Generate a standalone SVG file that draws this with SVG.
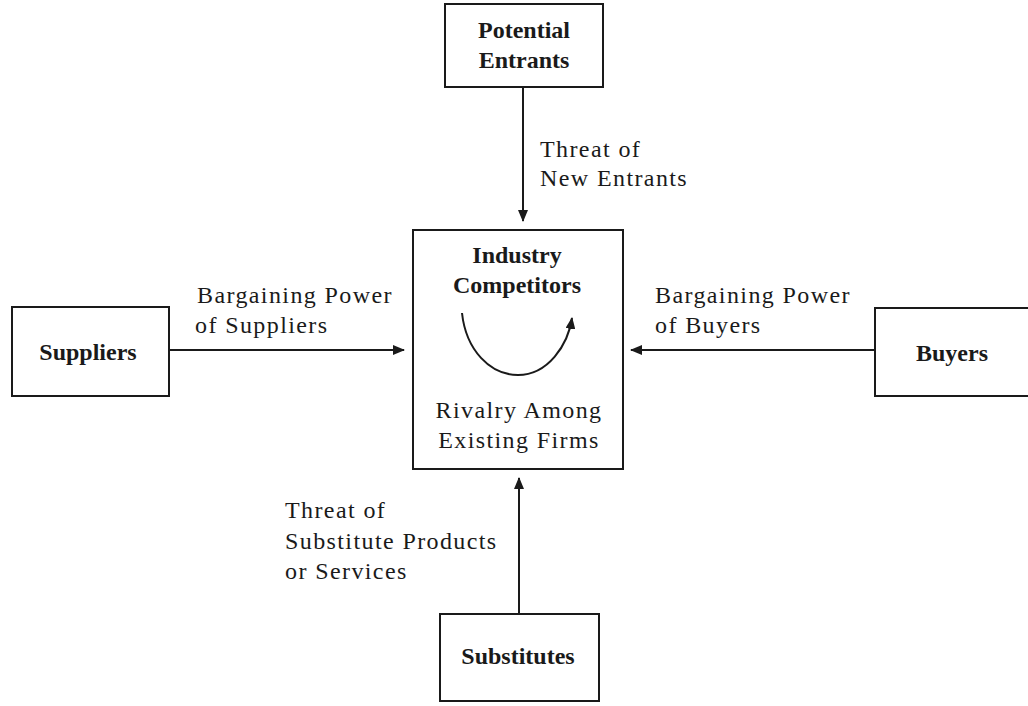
<svg xmlns="http://www.w3.org/2000/svg" width="1028" height="706" viewBox="0 0 1028 706">
  <style>
    .box { fill: #ffffff; stroke: #1a1a1a; stroke-width: 2; }
    .title { font-family: "Liberation Serif", "Times New Roman", serif; font-size: 24px; font-weight: bold; fill: #1a1a1a; text-anchor: middle; }
    .label { font-family: "Liberation Serif", "Times New Roman", serif; font-size: 24px; letter-spacing: 1.4px; fill: #1a1a1a; }
    .mid { text-anchor: middle; }
    .link { fill: none; stroke: #1a1a1a; stroke-width: 2; }
  </style>
  <defs>
    <marker id="arrow" viewBox="0 0 12 10" refX="11" refY="5" markerWidth="12" markerHeight="10" markerUnits="userSpaceOnUse" orient="auto">
      <path d="M0,0 L12,5 L0,10 Z" fill="#1a1a1a"/>
    </marker>
  </defs>
  <rect width="1028" height="706" fill="#ffffff"/>

  <!-- Connectors -->
  <g id="connectors">
    <line class="link" x1="523" y1="87" x2="523" y2="221" marker-end="url(#arrow)"/>
    <line class="link" x1="169" y1="350" x2="404" y2="350" marker-end="url(#arrow)"/>
    <line class="link" x1="875" y1="350" x2="631" y2="350" marker-end="url(#arrow)"/>
    <line class="link" x1="519" y1="614" x2="519" y2="478" marker-end="url(#arrow)"/>
    <text class="label" x="540" y="157">Threat of</text>
    <text class="label" x="540" y="186">New Entrants</text>
    <text class="label" x="197" y="303">Bargaining Power</text>
    <text class="label" x="195" y="333">of Suppliers</text>
    <text class="label" x="655" y="303">Bargaining Power</text>
    <text class="label" x="655" y="333">of Buyers</text>
    <text class="label" x="285" y="518">Threat of</text>
    <text class="label" x="285" y="549">Substitute Products</text>
    <text class="label" x="285" y="579">or Services</text>
  </g>

  <!-- Potential Entrants -->
  <g id="potential-entrants">
    <rect class="box" x="445" y="4" width="158" height="83"/>
    <text class="title" x="524" y="38">Potential</text>
    <text class="title" x="524" y="68">Entrants</text>
  </g>

  <!-- Industry Competitors -->
  <g id="industry-competitors">
    <rect class="box" x="413" y="230" width="210" height="239"/>
    <text class="title" x="517" y="263">Industry</text>
    <text class="title" x="517" y="293">Competitors</text>
    <path class="link" d="M462,313 C466,350 490,375 518,375 C548,375 568,345 572,318" marker-end="url(#arrow)"/>
    <text class="label mid" x="519" y="418">Rivalry Among</text>
    <text class="label mid" x="519" y="448">Existing Firms</text>
  </g>

  <!-- Suppliers -->
  <g id="suppliers">
    <rect class="box" x="12" y="307" width="157" height="89"/>
    <text class="title" x="88" y="360">Suppliers</text>
  </g>

  <!-- Buyers -->
  <g id="buyers">
    <rect class="box" x="875" y="308" width="160" height="88"/>
    <text class="title" x="952" y="361">Buyers</text>
  </g>

  <!-- Substitutes -->
  <g id="substitutes">
    <rect class="box" x="440" y="614" width="159" height="87"/>
    <text class="title" x="518" y="664">Substitutes</text>
  </g>
</svg>
